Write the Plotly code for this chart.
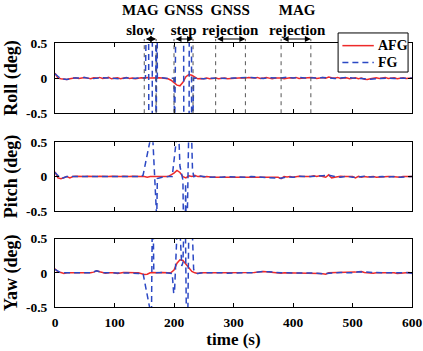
import plotly.graph_objects as go
from plotly.subplots import make_subplots

# ---------------- data ----------------
# AFG estimates, sampled every 5 s from 0 to 600 s
AFG_TIME = list(range(0, 601, 5))

ROLL_AFG = [
    0.07, 0.00, -0.01, -0.02, -0.02, -0.01, 0.00, 0.005, -0.005, 0.00,
    0.01, 0.00, -0.01, 0.005, 0.00, 0.01, -0.005, 0.00, 0.01, -0.01,
    0.00, 0.005, -0.01, 0.00, 0.01, -0.005, 0.00, -0.01, 0.00, 0.005,
    0.00, 0.01, 0.00, 0.005, 0.00, 0.005, 0.00, -0.005, -0.01, -0.03,
    -0.06, -0.10, -0.11, -0.06, 0.02, 0.05, 0.04, 0.01, -0.01, -0.005,
    -0.01, 0.00, -0.01, -0.005, 0.00, -0.01, -0.005, 0.00, -0.01, -0.005,
    0.00, -0.005, 0.00, 0.005, 0.00, 0.01, 0.005, 0.00, 0.01, -0.005,
    0.00, 0.01, 0.00, -0.01, 0.00, 0.005, 0.00, -0.01, 0.00, 0.005,
    0.00, 0.01, -0.005, 0.00, 0.005, 0.00, 0.01, 0.005, -0.005, 0.00,
    0.01, 0.00, 0.015, 0.005, 0.00, 0.01, -0.005, 0.00, 0.005, -0.01,
    0.00, 0.005, -0.01, 0.00, -0.015, -0.02, -0.01, 0.00, 0.005, -0.005,
    0.00, 0.01, -0.005, 0.00, 0.005, -0.01, 0.00, 0.005, -0.005, 0.00,
    0.00,
]

PITCH_AFG = [
    0.07, -0.02, -0.03, -0.01, 0.00, -0.02, 0.00, 0.005, 0.00, -0.005,
    0.00, 0.005, 0.00, -0.005, 0.00, 0.005, 0.00, -0.005, 0.00, 0.005,
    0.00, -0.005, 0.00, 0.005, 0.00, 0.00, 0.005, 0.00, 0.00, 0.00,
    0.00, -0.01, 0.00, 0.005, 0.00, 0.00, -0.005, 0.00, 0.00, 0.02,
    0.05, 0.09, 0.06, 0.00, -0.02, 0.01, 0.00, 0.02, 0.00, 0.005,
    -0.005, 0.00, -0.01, -0.01, -0.01, -0.01, -0.01, 0.00, -0.005, 0.00,
    -0.01, 0.00, -0.005, 0.00, -0.01, -0.005, 0.00, 0.00, -0.005, -0.01,
    -0.01, -0.01, -0.005, -0.005, -0.01, -0.01, -0.03, 0.00, -0.005, 0.00,
    -0.01, 0.00, 0.005, 0.00, -0.005, 0.00, 0.00, 0.01, 0.00, 0.01,
    0.00, -0.01, 0.025, -0.02, -0.01, 0.00, 0.005, 0.00, 0.00, 0.005,
    0.00, -0.02, 0.005, -0.01, 0.00, -0.005, 0.00, 0.00, -0.01, -0.005,
    0.00, -0.005, 0.00, 0.00, -0.005, 0.00, -0.01, 0.00, -0.005, 0.00,
    0.00,
]

YAW_AFG = [
    0.06, 0.01, 0.005, -0.01, 0.00, 0.00, -0.005, 0.00, 0.00, -0.01,
    0.00, -0.01, 0.00, 0.01, 0.03, 0.015, 0.00, -0.005, 0.00, 0.005,
    0.00, -0.01, 0.00, 0.005, 0.005, 0.00, -0.005, 0.00, 0.00, -0.01,
    -0.025, -0.02, 0.00, 0.005, 0.00, 0.00, 0.005, 0.00, 0.00, 0.005,
    0.04, 0.14, 0.19, 0.18, 0.13, 0.07, 0.02, 0.00, -0.01, 0.00,
    0.005, 0.00, 0.00, 0.005, 0.00, 0.00, 0.00, -0.005, 0.00, 0.00,
    0.00, 0.00, 0.00, 0.00, 0.00, 0.00, 0.00, 0.005, 0.01, 0.02,
    0.02, 0.015, 0.01, 0.00, 0.005, 0.00, -0.005, 0.00, 0.00, 0.00,
    0.00, 0.00, -0.005, 0.00, 0.00, 0.00, 0.00, 0.00, 0.00, -0.01,
    -0.015, -0.02, 0.00, 0.00, 0.005, 0.00, 0.005, 0.00, 0.00, 0.005,
    0.00, 0.01, 0.015, 0.02, 0.005, 0.00, 0.00, -0.005, 0.00, 0.00,
    0.00, 0.005, 0.00, 0.00, 0.00, -0.01, -0.005, 0.00, 0.00, 0.005,
    -0.01,
]

# FG estimates: 10 s samples before/after the disturbances, denser samples inside
ROLL_FG_PRE = [0.06, -0.01, -0.02, 0.0, 0.0, 0.01, -0.01, 0.0, 0.005, 0.0,
               0.0, -0.01, 0.005, -0.005, 0.0, 0.0]                      # 0..150 s
ROLL_FG_EVT_T = [152, 157, 158, 163, 164, 169, 170, 171, 172, 180, 190,
                 200, 201, 204, 216, 217, 225, 226, 229, 230, 231, 233]
ROLL_FG_EVT = [0.0, 3.0, -3.0, -3.0, 3.0, 3.0, -3.0, 3.0, 0.0, 0.005, -0.005,
               0.0, -0.8, 1.5, 1.5, -3.0, -3.0, 3.0, 3.0, -3.0, -1.0, 0.0]
ROLL_FG_POST = [-0.005, -0.01, 0.0, -0.005, 0.0, -0.005, 0.0, 0.005, 0.0, 0.01,
                0.0, -0.005, 0.005, 0.0, 0.0, 0.015, 0.0, 0.01, 0.0, 0.005,
                0.0, 0.01, 0.0, -0.005, 0.0, 0.01, 0.0, 0.0, -0.01, -0.015,
                -0.01, 0.005, 0.0, -0.005, 0.0, 0.005, 0.0]               # 240..600 s

PITCH_FG_PRE = [0.06, -0.03, 0.0, 0.0, 0.005, 0.0, 0.0, -0.005, 0.0, 0.005,
                0.0, 0.0, 0.0, 0.0, 0.0]                                  # 0..140 s
PITCH_FG_EVT_T = [145, 148, 155, 162, 164, 171, 172, 180, 190, 197, 205, 208,
                  210, 212, 215, 216, 219, 219.5, 220.5, 222, 225, 229, 231, 233]
PITCH_FG_EVT = [0.0, 0.02, 0.35, 0.62, 0.62, -0.62, -0.03, -0.01, 0.0, 0.0,
                0.62, 0.62, 0.15, 0.05, -0.05, -0.8, -0.8, -0.1, -0.8, -0.8,
                0.8, 0.8, 0.12, 0.0]
PITCH_FG_POST = [0.01, 0.0, -0.01, -0.005, -0.01, 0.0, -0.005, 0.0, -0.01, 0.0,
                 -0.005, -0.01, -0.005, -0.01, -0.025, -0.005, -0.01, 0.005, 0.0, 0.0,
                 0.005, 0.01, 0.02, 0.0, -0.01, 0.005, -0.01, -0.005, 0.005, -0.005,
                 0.0, 0.0, -0.005, 0.0, -0.01, 0.0, 0.0]                  # 240..600 s

YAW_FG_PRE = [0.05, 0.0, 0.0, 0.0, -0.005, -0.01, 0.0, 0.03, 0.0, 0.0,
              0.0, 0.0, 0.005, -0.005, -0.01]                             # 0..140 s
YAW_FG_EVT_T = [148, 160, 161, 162, 163.5, 165, 166, 170, 180, 190, 197, 199.5,
                201, 206, 209, 213, 215, 217, 219, 221, 223, 225, 230, 233, 236]
YAW_FG_EVT = [-0.01, -0.55, -0.8, -0.8, 0.8, 0.8, 0.05, 0.0, 0.005, 0.0, -0.01,
              -0.3, -0.25, 0.8, 0.8, 0.1, 0.15, 0.8, 0.8, -0.8, -0.8, 0.8, 0.8,
              0.05, 0.0]
YAW_FG_POST = [-0.01, 0.005, 0.0, 0.005, 0.0, -0.005, 0.0, 0.0, 0.0, 0.0,
               0.01, 0.02, 0.015, 0.005, 0.0, 0.0, 0.0, -0.005, 0.0, 0.0,
               -0.005, -0.015, -0.01, 0.005, 0.005, 0.0, 0.0, 0.015, 0.01, 0.0,
               -0.005, 0.0, 0.0, -0.005, 0.0, 0.005, -0.005]              # 240..600 s

# disturbance intervals (s) and their labels
EVENT_START = [150, 200, 270, 380]
EVENT_END = [170, 232, 320, 430]
EVENT_LABELS = ["MAG<br>slow", "GNSS<br>step", "GNSS<br>rejection", "MAG<br>rejection"]
EVENT_LABEL_SHIFT = [-10, 0, 0, 2]

SERIES_NAMES = ["AFG", "FG"]
PANEL_TITLES = ["Roll (deg)", "Pitch (deg)", "Yaw (deg)"]
X_TICKS = [0, 100, 200, 300, 400, 500, 600]
Y_TICKS = [-0.5, 0, 0.5]
Y_TICK_TEXT = ["-0.5", "0", "0.5"]


def fg_series(pre, evt_t, evt, post):
    t = [10 * i for i in range(len(pre))] + evt_t + [240 + 10 * i for i in range(len(post))]
    return t, pre + evt + post


FG = [
    fg_series(ROLL_FG_PRE, ROLL_FG_EVT_T, ROLL_FG_EVT, ROLL_FG_POST),
    fg_series(PITCH_FG_PRE, PITCH_FG_EVT_T, PITCH_FG_EVT, PITCH_FG_POST),
    fg_series(YAW_FG_PRE, YAW_FG_EVT_T, YAW_FG_EVT, YAW_FG_POST),
]
AFG = [ROLL_AFG, PITCH_AFG, YAW_AFG]

# ---------------- figure ----------------
FONT = "Liberation Serif"
RED = "#EE2A2A"
BLUE = "#2B48C4"
FG_DASH = "6px,4px"
TICK_FONT = dict(size=13.5, family=FONT, color="black")

fig = make_subplots(rows=3, cols=1)
domains = [[0.734, 1.0], [0.364, 0.624], [0.0, 0.259]]

for i in range(3):
    r = i + 1
    fig.add_trace(go.Scatter(x=AFG_TIME, y=AFG[i], mode="lines", name=SERIES_NAMES[0],
                             line=dict(color=RED, width=1.5), showlegend=False),
                  row=r, col=1)
    fig.add_trace(go.Scatter(x=FG[i][0], y=FG[i][1], mode="lines", name=SERIES_NAMES[1],
                             line=dict(color=BLUE, width=1.5, dash=FG_DASH),
                             showlegend=False), row=r, col=1)
    fig.update_xaxes(range=[0, 600], tickvals=X_TICKS,
                     ticktext=[f"<b>{v}</b>" for v in X_TICKS],
                     ticks="inside", ticklen=4, tickcolor="black", showline=True,
                     linecolor="black", linewidth=1, mirror="ticks", showgrid=False,
                     zeroline=False, tickfont=TICK_FONT, showticklabels=(r == 3),
                     ticklabelstandoff=3, automargin=False, row=r, col=1)
    fig.update_yaxes(range=[-0.5, 0.5], tickvals=Y_TICKS,
                     ticktext=[f"<b>{t}</b>" for t in Y_TICK_TEXT],
                     ticks="inside", ticklen=4, tickcolor="black", showline=True,
                     linecolor="black", linewidth=1, mirror="ticks", showgrid=False,
                     zeroline=False, domain=domains[i], tickfont=TICK_FONT,
                     ticklabelstandoff=4, automargin=False, row=r, col=1,
                     title=dict(text=f"<b>{PANEL_TITLES[i]}</b>", standoff=3,
                                font=dict(size=18, family=FONT, color="black")))

fig.update_xaxes(title=dict(text="<b>time (s)</b>", standoff=3,
                            font=dict(size=17, family=FONT, color="black")), row=3, col=1)

# interval markers above the roll panel
arrow_y = 1.057
for s, e, label, dx in zip(EVENT_START, EVENT_END, EVENT_LABELS, EVENT_LABEL_SHIFT):
    for xv in (s, e):
        fig.add_shape(type="line", xref="x", yref="y domain", x0=xv, x1=xv,
                      y0=0, y1=arrow_y,
                      line=dict(color="#555555", width=1, dash="4px,4px"))
    fig.add_annotation(xref="x", yref="y domain", x=e, y=arrow_y,
                       axref="x", ayref="pixel", ax=s, ay=0, text="",
                       showarrow=True, arrowhead=2, arrowside="end+start",
                       arrowsize=1, arrowwidth=1.2, arrowcolor="black",
                       startarrowhead=2, startarrowsize=1)
    fig.add_annotation(xref="x", yref="y domain", x=(s + e) / 2, y=1.33,
                       xshift=dx, text=f"<b>{label}</b>", showarrow=False,
                       font=dict(size=15, family=FONT, color="black"),
                       yanchor="middle", align="center")

# compact boxed legend in the upper right corner
LEG_X0, LEG_X1, LEG_Y0, LEG_Y1 = 0.793, 0.989, 0.890, 1.038
LEG_ROWS = [0.990, 0.926]
fig.add_shape(type="rect", xref="paper", yref="paper", x0=LEG_X0, x1=LEG_X1,
              y0=LEG_Y0, y1=LEG_Y1, fillcolor="white",
              line=dict(color="black", width=1), layer="above")
for name, yy, col, dash in zip(SERIES_NAMES, LEG_ROWS, [RED, BLUE], ["solid", FG_DASH]):
    fig.add_shape(type="line", xref="paper", yref="paper", x0=0.805, x1=0.893,
                  y0=yy, y1=yy, line=dict(color=col, width=1.5, dash=dash), layer="above")
    fig.add_annotation(xref="paper", yref="paper", x=0.898, y=yy, xanchor="left",
                       yanchor="middle", text=f"<b>{name}</b>", showarrow=False,
                       font=dict(size=14, family=FONT, color="black"))

fig.update_layout(
    width=423, height=351,
    margin=dict(l=55, r=11, t=43, b=44),
    paper_bgcolor="white", plot_bgcolor="white",
    font=dict(family=FONT, size=13, color="black"),
    showlegend=False,
)

fig.write_html("out.html")
